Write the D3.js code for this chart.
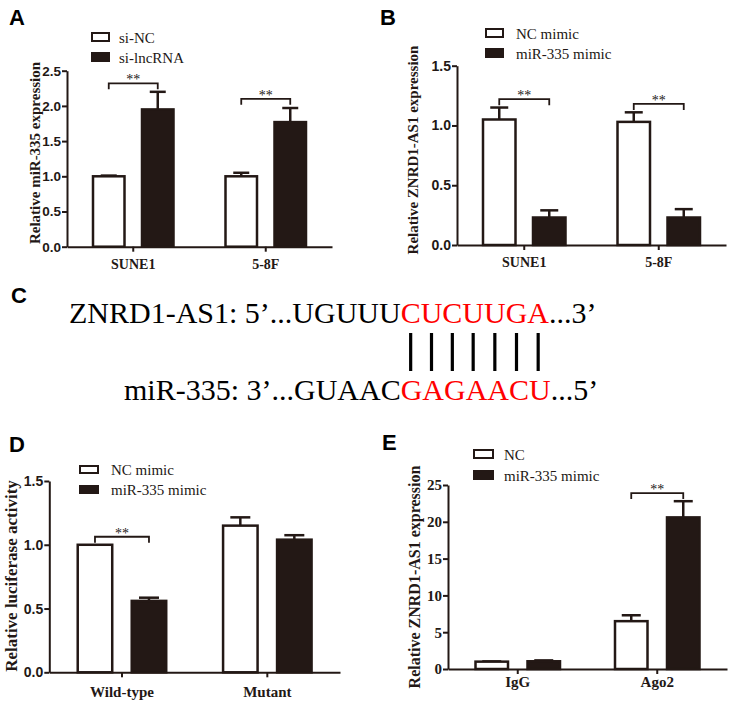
<!DOCTYPE html>
<html>
<head>
<meta charset="utf-8">
<script src="https://cdn.jsdelivr.net/npm/d3@7"></script>
<style>
  body { margin: 0; background: #fff; }
  svg { display: block; }
  .serif { font-family: "Liberation Serif", "Times New Roman", serif; }
  .sans { font-family: "Liberation Sans", Arial, sans-serif; }
</style>
</head>
<body>
<div id="chart"></div>
<script>
// ---- data ----
var groupsA = ["SUNE1", "5-8F"];
var seriesA = ["si-NC", "si-lncRNA"];
var meanA = [[1.0, 1.95], [1.0, 1.77]];
var errA = [[0.01, 0.25], [0.05, 0.2]];
var sigA = [2.32, 2.1];
var ticksA = [0, 0.5, 1.0, 1.5, 2.0, 2.5];

var groupsB = ["SUNE1", "5-8F"];
var seriesB = ["NC mimic", "miR-335 mimic"];
var meanB = [[1.05, 0.23], [1.03, 0.23]];
var errB = [[0.1, 0.06], [0.08, 0.07]];
var sigB = [1.22, 1.18];
var ticksB = [0, 0.5, 1.0, 1.5];

var groupsD = ["Wild-type", "Mutant"];
var seriesD = ["NC mimic", "miR-335 mimic"];
var meanD = [[1.0, 0.56], [1.15, 1.04]];
var errD = [[0, 0.025], [0.065, 0.035]];
var sigD = [1.063, null];
var ticksD = [0, 0.5, 1.0, 1.5];

var groupsE = ["IgG", "Ago2"];
var seriesE = ["NC", "miR-335 mimic"];
var meanE = [[1.0, 1.05], [6.5, 20.6]];
var errE = [[0.03, 0.12], [0.8, 2.2]];
var sigE = [null, 23.9];
var ticksE = [0, 5, 10, 15, 20, 25];

var seqTop = [["ZNRD1-AS1: 5\u2019...UGUUU", "black"], ["CUCUUGA", "red"], ["...3\u2019", "black"]];
var seqBottom = [["miR-335: 3\u2019...GUAAC", "black"], ["GAGAACU", "red"], ["...5\u2019", "black"]];

var DARK = "#231815";

var svg = d3.select("#chart").append("svg")
  .attr("width", 734)
  .attr("height", 702);

function panel(cfg, groups, series, means, errs, sig, ticks, fmt) {
  var g = svg.append("g");

  var x = d3.scaleBand().domain(groups).range([cfg.x0, cfg.x1]);
  var half = cfg.barW + cfg.gap / 2;
  var xs = d3.scaleBand().domain(series)
    .range([-half, half])
    .paddingInner(cfg.gap / (cfg.barW + cfg.gap));
  var y = d3.scaleLinear().domain([0, ticks[ticks.length - 1]]).range([cfg.y0, cfg.yTop]);

  // bars
  groups.forEach(function(grp, gi) {
    var cx = x(grp) + x.bandwidth() / 2;
    series.forEach(function(s, si) {
      var left = cx + xs(s);
      var mid = left + xs.bandwidth() / 2;
      var v = means[gi][si];
      var e = errs[gi][si];
      if (e > 0) {
        g.append("line")
          .attr("x1", mid).attr("x2", mid)
          .attr("y1", y(v)).attr("y2", y(v + e))
          .attr("stroke", DARK).attr("stroke-width", 2.5);
        g.append("line")
          .attr("x1", mid - cfg.capW / 2).attr("x2", mid + cfg.capW / 2)
          .attr("y1", y(v + e)).attr("y2", y(v + e))
          .attr("stroke", DARK).attr("stroke-width", 2.5);
      }
      g.append("rect")
        .attr("x", left + 1.25)
        .attr("y", y(v))
        .attr("width", xs.bandwidth() - 2.5)
        .attr("height", cfg.y0 - y(v))
        .attr("fill", si === 0 ? "#fff" : DARK)
        .attr("stroke", DARK)
        .attr("stroke-width", 2.5);
    });

    // significance bracket
    if (sig[gi] != null) {
      var a = cx + xs(series[0]) + xs.bandwidth() / 2;
      var b = cx + xs(series[1]) + xs.bandwidth() / 2;
      var yb = y(sig[gi]);
      g.append("path")
        .attr("d", "M" + a + "," + (yb + 6) + "V" + yb + "H" + b + "V" + (yb + 6))
        .attr("fill", "none").attr("stroke", DARK).attr("stroke-width", 1.8);
      g.append("text")
        .attr("class", "serif")
        .attr("x", (a + b) / 2).attr("y", yb + 1)
        .attr("text-anchor", "middle")
        .attr("font-size", 14)
        .attr("fill", DARK)
        .text("**");
    }
  });

  // axes
  var ya = g.append("g")
    .attr("transform", "translate(" + cfg.x0 + ",0)")
    .call(d3.axisLeft(y).tickValues(ticks).tickFormat(fmt).tickSize(5).tickSizeOuter(0).tickPadding(1));
  ya.select(".domain").attr("stroke", DARK).attr("stroke-width", 2);
  ya.selectAll(".tick line").attr("stroke", DARK).attr("stroke-width", 2);
  ya.selectAll(".tick text")
    .attr("class", cfg.tickFamily)
    .attr("font-weight", "bold")
    .attr("font-size", cfg.tickSize)
    .attr("fill", DARK);

  var xa = g.append("g")
    .attr("transform", "translate(0," + cfg.y0 + ")")
    .call(d3.axisBottom(x).tickSize(5).tickSizeOuter(0).tickPadding(cfg.xPad));
  xa.select(".domain").attr("stroke", DARK).attr("stroke-width", 2);
  xa.selectAll(".tick line").attr("stroke", DARK).attr("stroke-width", 2);
  xa.selectAll(".tick text")
    .attr("class", "serif")
    .attr("font-weight", "bold")
    .attr("font-size", cfg.xSize)
    .attr("fill", DARK);

  // y title
  g.append("text")
    .attr("class", "serif")
    .attr("transform", "translate(" + cfg.titleX + "," + cfg.titleY + ") rotate(-90)")
    .attr("text-anchor", "middle")
    .attr("font-weight", "bold")
    .attr("font-size", cfg.titleSize)
    .attr("fill", DARK)
    .text(cfg.title);

  // legend
  series.forEach(function(s, si) {
    var top = cfg.legY[si];
    g.append("rect")
      .attr("x", cfg.legX + 1).attr("y", top + 1)
      .attr("width", cfg.legW - 2).attr("height", cfg.legH - 2)
      .attr("fill", si === 0 ? "#fff" : DARK)
      .attr("stroke", DARK).attr("stroke-width", 2);
    g.append("text")
      .attr("class", "serif")
      .attr("x", cfg.legTextX).attr("y", top + cfg.legH + 1)
      .attr("font-size", 15)
      .attr("fill", DARK)
      .text(s);
  });

  // panel letter
  g.append("text")
    .attr("class", "sans")
    .attr("x", cfg.letterX).attr("y", cfg.letterY)
    .attr("font-weight", "bold")
    .attr("font-size", 22)
    .text(cfg.letter);
}

var fmt1 = d3.format(".1f");
var fmt0 = d3.format("d");

panel({ x0: 67, x1: 332, y0: 246.7, yTop: 70.7, barW: 34, gap: 15, capW: 16,
  tickFamily: "sans", tickSize: 13.5, xSize: 14, xPad: 7,
  title: "Relative miR-335 expression", titleX: 40, titleY: 153, titleSize: 15,
  legX: 91, legY: [32, 52], legW: 19, legH: 10, legTextX: 119,
  letter: "A", letterX: 9, letterY: 25 },
  groupsA, seriesA, meanA, errA, sigA, ticksA, fmt1);

panel({ x0: 457, x1: 726, y0: 245, yTop: 65.7, barW: 35, gap: 15, capW: 18,
  tickFamily: "sans", tickSize: 14, xSize: 14, xPad: 7,
  title: "Relative ZNRD1-AS1 expression", titleX: 418, titleY: 150, titleSize: 15,
  legX: 485, legY: [28, 48], legW: 19, legH: 10, legTextX: 516,
  letter: "B", letterX: 380, letterY: 25 },
  groupsB, seriesB, meanB, errB, sigB, ticksB, fmt1);

panel({ x0: 49.3, x1: 340, y0: 672.3, yTop: 481, barW: 37, gap: 17, capW: 20,
  tickFamily: "sans", tickSize: 14, xSize: 15, xPad: 9,
  title: "Relative luciferase activity", titleX: 17, titleY: 576, titleSize: 17,
  legX: 79, legY: [465, 485], legW: 20, legH: 9, legTextX: 111,
  letter: "D", letterX: 9, letterY: 452 },
  groupsD, seriesD, meanD, errD, sigD, ticksD, fmt1);

panel({ x0: 448, x1: 727, y0: 669, yTop: 485, barW: 35, gap: 17, capW: 19,
  tickFamily: "serif", tickSize: 15, xSize: 15, xPad: 2,
  title: "Relative ZNRD1-AS1 expression", titleX: 420, titleY: 577, titleSize: 16,
  legX: 473, legY: [449, 470], legW: 21, legH: 10, legTextX: 504,
  letter: "E", letterX: 382, letterY: 450 },
  groupsE, seriesE, meanE, errE, sigE, ticksE, fmt0);

// ---- panel C: sequence pairing ----
svg.append("text")
  .attr("class", "sans")
  .attr("x", 11).attr("y", 303)
  .attr("font-weight", "bold")
  .attr("font-size", 22)
  .text("C");

function seqLine(parts, x, yb) {
  var t = svg.append("text")
    .attr("class", "serif")
    .attr("x", x).attr("y", yb)
    .attr("font-size", 30);
  parts.forEach(function(p) {
    t.append("tspan")
      .attr("fill", p[1] === "red" ? "#f00" : "#000")
      .text(p[0]);
  });
  return t;
}

var topText = seqLine(seqTop, 69, 323);
seqLine(seqBottom, 124, 400);

// one pairing line per red base of the upper strand
var node = topText.node();
var start = seqTop[0][0].length;
var red = seqTop[1][0];
for (var i = 0; i < red.length; i++) {
  var ext = node.getExtentOfChar(start + i);
  var cx = ext.x + ext.width / 2;
  svg.append("line")
    .attr("x1", cx).attr("x2", cx)
    .attr("y1", 333).attr("y2", 371)
    .attr("stroke", "#000").attr("stroke-width", 3.2);
}
</script>
</body>
</html>
